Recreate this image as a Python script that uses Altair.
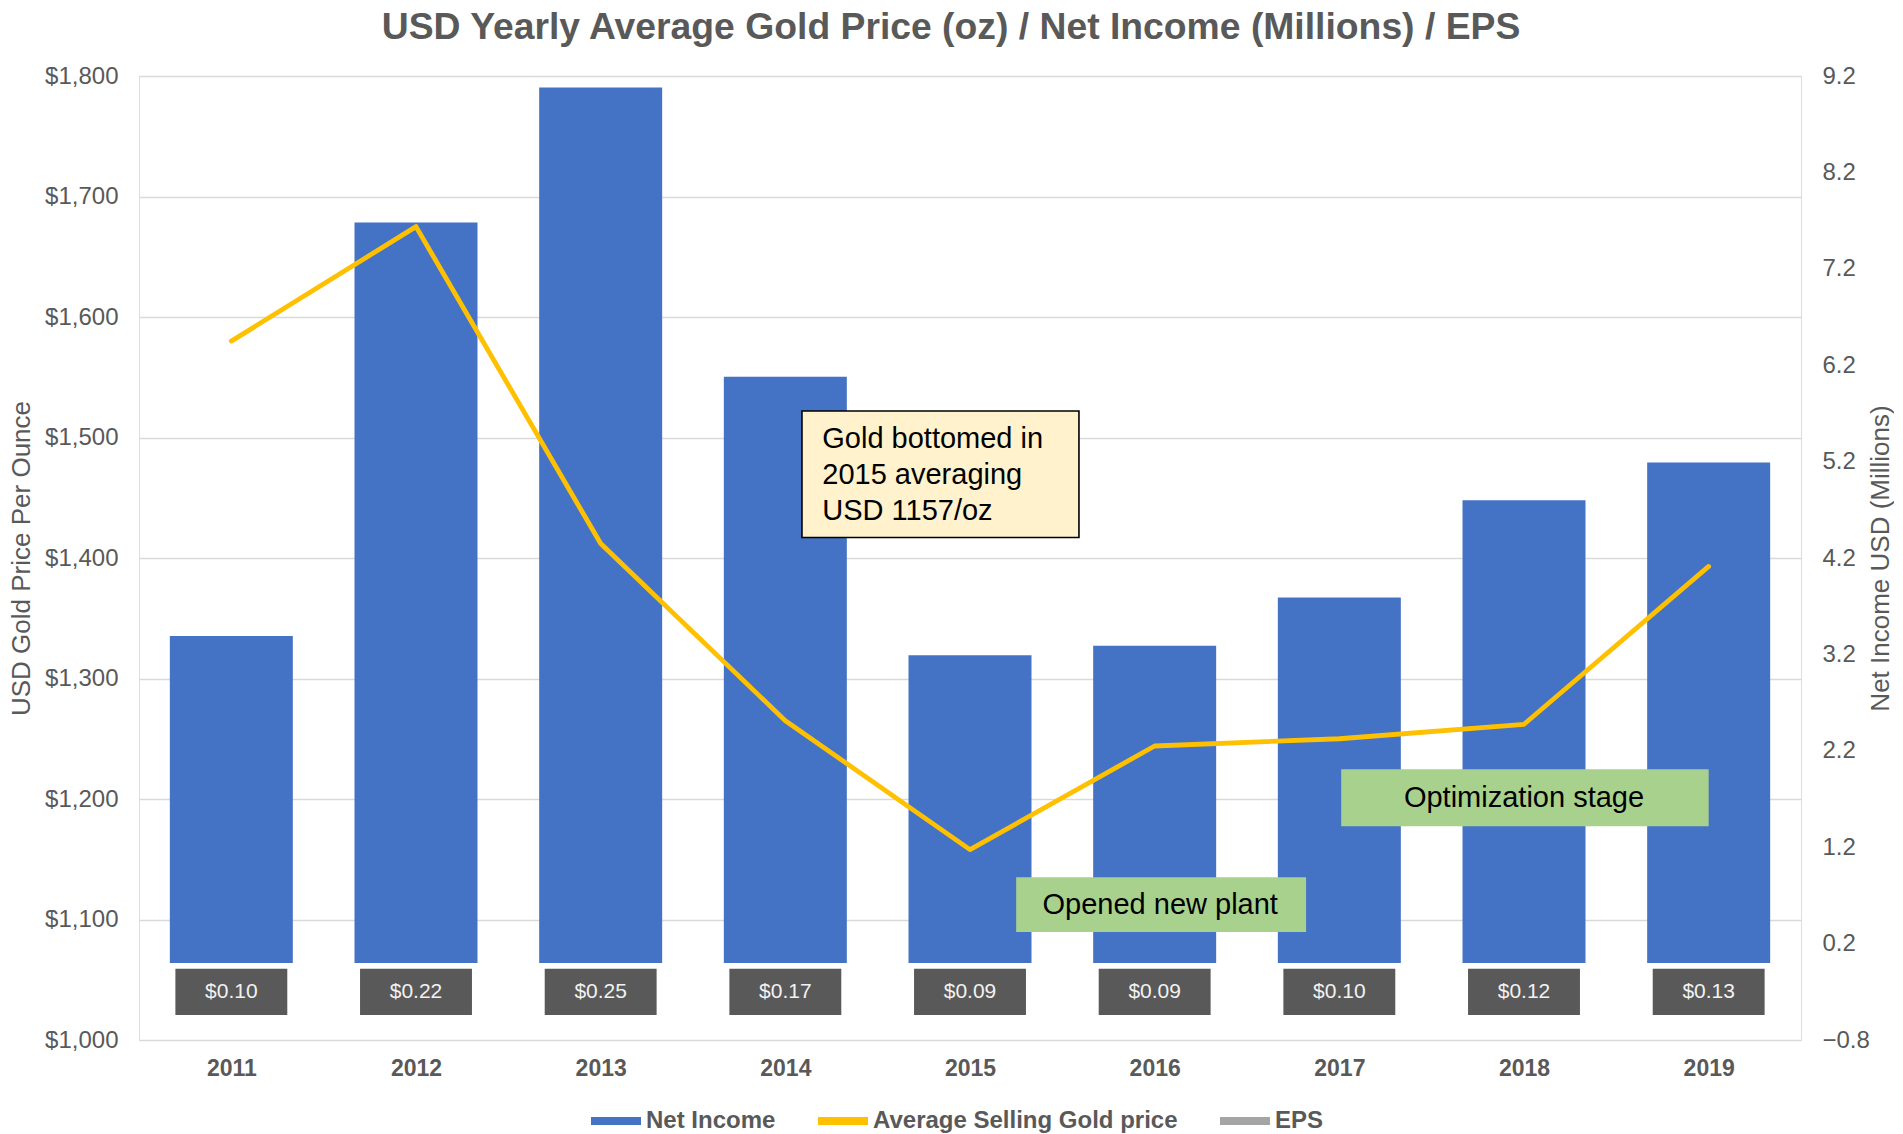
import altair as alt
import pandas as pd

# ---------------- data ----------------
years = [2011, 2012, 2013, 2014, 2015, 2016, 2017, 2018, 2019]
net_income = [3.39, 7.68, 9.08, 6.08, 3.19, 3.29, 3.79, 4.80, 5.19]      # USD millions
gold_price = [1580, 1675, 1412, 1265, 1158, 1244, 1250, 1262, 1393]      # USD / oz
eps = [0.10, 0.22, 0.25, 0.17, 0.09, 0.09, 0.10, 0.12, 0.13]

series_names = ["Net Income", "Average Selling Gold price", "EPS"]
series_colors = ["#4472C4", "#FFC000", "#A5A5A5"]

left_ticks = [1000, 1100, 1200, 1300, 1400, 1500, 1600, 1700, 1800]
right_ticks = [-0.8, 0.2, 1.2, 2.2, 3.2, 4.2, 5.2, 6.2, 7.2, 8.2, 9.2]

note_gold_text = [["Gold bottomed in", "2015 averaging", "USD 1157/oz"]]
note_green_text = ["Opened new plant", "Optimization stage"]

# ---------------- style ----------------
FONT = "Liberation Sans"
GREY = "#595959"
BAR_HALF = 0.333
EPS_HALF = 0.303

df = pd.DataFrame({"year": years, "net_income": net_income,
                   "gold": gold_price, "eps": eps})

gold_note = pd.DataFrame({
    "text": note_gold_text,
    "x_left": [2014.09], "x_right": [2015.59],
    "y_bottom": [1417.0], "y_top": [1522.0],
    "tx": [2014.20], "ty": [1498.7],
})
green_notes = pd.DataFrame({
    "text": note_green_text,
    "x_left": [2015.25, 2017.01], "x_right": [2016.82, 2019.0],
    "y_bottom": [1089.7, 1177.3], "y_top": [1135.0, 1224.7],
    "tx": [2016.03, 2018.0], "ty": [1112.4, 1200.5],
})
legend_df = pd.DataFrame({"series": series_names})

x_scale = alt.Scale(domain=[2010.5, 2019.5], nice=False, zero=False)
x_axis = alt.Axis(values=years, format="d", title=None, labelFontSize=23,
                  labelFontWeight="bold", labelColor=GREY, labelFont=FONT,
                  ticks=False, domain=False, grid=False, labelPadding=17)

left_scale = alt.Scale(domain=[1000, 1800], nice=False, zero=False)
left_axis = alt.Axis(orient="left", values=left_ticks, format="$,d",
                     title="USD Gold Price Per Ounce", titleFont=FONT,
                     titleFontSize=26, titleFontWeight="normal", titleColor=GREY,
                     titlePadding=10, labelFont=FONT, labelFontSize=24,
                     labelColor=GREY, labelPadding=21, ticks=False, domain=False,
                     grid=True, gridColor="#D9D9D9", gridWidth=1.3)

right_scale = alt.Scale(domain=[-0.8, 9.2], nice=False, zero=False)
right_axis = alt.Axis(orient="right", values=right_ticks, format=".1f",
                      title="Net Income USD (Millions)", titleFont=FONT,
                      titleFontSize=26, titleFontWeight="normal", titleColor=GREY,
                      titleAngle=270, titlePadding=24, labelFont=FONT,
                      labelFontSize=24, labelColor=GREY, labelPadding=21,
                      ticks=False, domain=False, grid=False)

base = alt.Chart(df)

bars = base.mark_rect(color="#4472C4").transform_calculate(
    x0=f"datum.year - {BAR_HALF}", x1=f"datum.year + {BAR_HALF}"
).encode(
    x=alt.X("x0:Q", scale=x_scale, axis=x_axis),
    x2="x1:Q",
    y=alt.Y("net_income:Q", scale=right_scale, axis=right_axis),
    y2=alt.Y2(datum=0),
)

eps_boxes = base.mark_rect(color=GREY).transform_calculate(
    x0=f"datum.year - {EPS_HALF}", x1=f"datum.year + {EPS_HALF}"
).encode(
    x=alt.X("x0:Q", scale=x_scale, axis=x_axis),
    x2="x1:Q",
    y=alt.Y(datum=-0.06, scale=right_scale, axis=right_axis),
    y2=alt.Y2(datum=-0.54),
)

eps_text = base.mark_text(color="#F2F2F2", font=FONT, fontSize=21,
                          baseline="middle", align="center").encode(
    x=alt.X("year:Q", scale=x_scale, axis=x_axis),
    y=alt.Y(datum=-0.3, scale=right_scale, axis=right_axis),
    text=alt.Text("eps:Q", format="$.2f"),
)

legend_layer = alt.Chart(legend_df).mark_point(shape="stroke", filled=False).transform_filter(
    "false"
).encode(
    color=alt.Color("series:N", sort=series_names,
                    scale=alt.Scale(domain=series_names, range=series_colors),
                    legend=alt.Legend(orient="none", legendX=448, legendY=1016,
                                      direction="horizontal", title=None,
                                      symbolType="stroke", symbolSize=2500,
                                      symbolStrokeWidth=8, symbolOpacity=1,
                                      labelFont=FONT, labelFontSize=24,
                                      labelFontWeight="bold", labelColor=GREY,
                                      labelLimit=500, columnPadding=26,
                                      labelOffset=1)),
)

right_layer = alt.layer(bars, eps_boxes, eps_text, legend_layer)

line = base.mark_line(color="#FFC000", strokeWidth=4.8, strokeCap="round",
                      strokeJoin="round").encode(
    x=alt.X("year:Q", scale=x_scale, axis=x_axis),
    y=alt.Y("gold:Q", scale=left_scale, axis=left_axis),
)

gold_box = alt.Chart(gold_note).mark_rect(fill="#FFF2CC", stroke="#000000",
                                          strokeWidth=1.6).encode(
    x=alt.X("x_left:Q", scale=x_scale, axis=x_axis),
    x2="x_right:Q",
    y=alt.Y("y_bottom:Q", scale=left_scale, axis=left_axis),
    y2="y_top:Q",
)
gold_txt = alt.Chart(gold_note).mark_text(align="left", baseline="middle",
                                          font=FONT, fontSize=29, lineHeight=36,
                                          color="#000000").encode(
    x=alt.X("tx:Q", scale=x_scale, axis=x_axis),
    y=alt.Y("ty:Q", scale=left_scale, axis=left_axis),
    text="text",
)
green_box = alt.Chart(green_notes).mark_rect(fill="#A9D18E").encode(
    x=alt.X("x_left:Q", scale=x_scale, axis=x_axis),
    x2="x_right:Q",
    y=alt.Y("y_bottom:Q", scale=left_scale, axis=left_axis),
    y2="y_top:Q",
)
green_txt = alt.Chart(green_notes).mark_text(align="center", baseline="middle",
                                             font=FONT, fontSize=29,
                                             color="#000000").encode(
    x=alt.X("tx:Q", scale=x_scale, axis=x_axis),
    y=alt.Y("ty:Q", scale=left_scale, axis=left_axis),
    text="text:N",
)

left_layer = alt.layer(line, gold_box, gold_txt, green_box, green_txt)

chart = alt.layer(right_layer, left_layer).resolve_scale(
    y="independent"
).properties(
    width=1662, height=964,
    padding={"left": 0, "top": 0, "right": 0, "bottom": 0},
    title=alt.TitleParams(
        text="USD Yearly Average Gold Price (oz) / Net Income (Millions) / EPS",
        font=FONT, fontSize=37.3, fontWeight="bold", color=GREY,
        anchor="middle", frame="bounds", offset=17),
).configure_view(stroke=None).configure(background="white")

chart.save("out.html", embed_options={"renderer": "svg", "actions": False})
